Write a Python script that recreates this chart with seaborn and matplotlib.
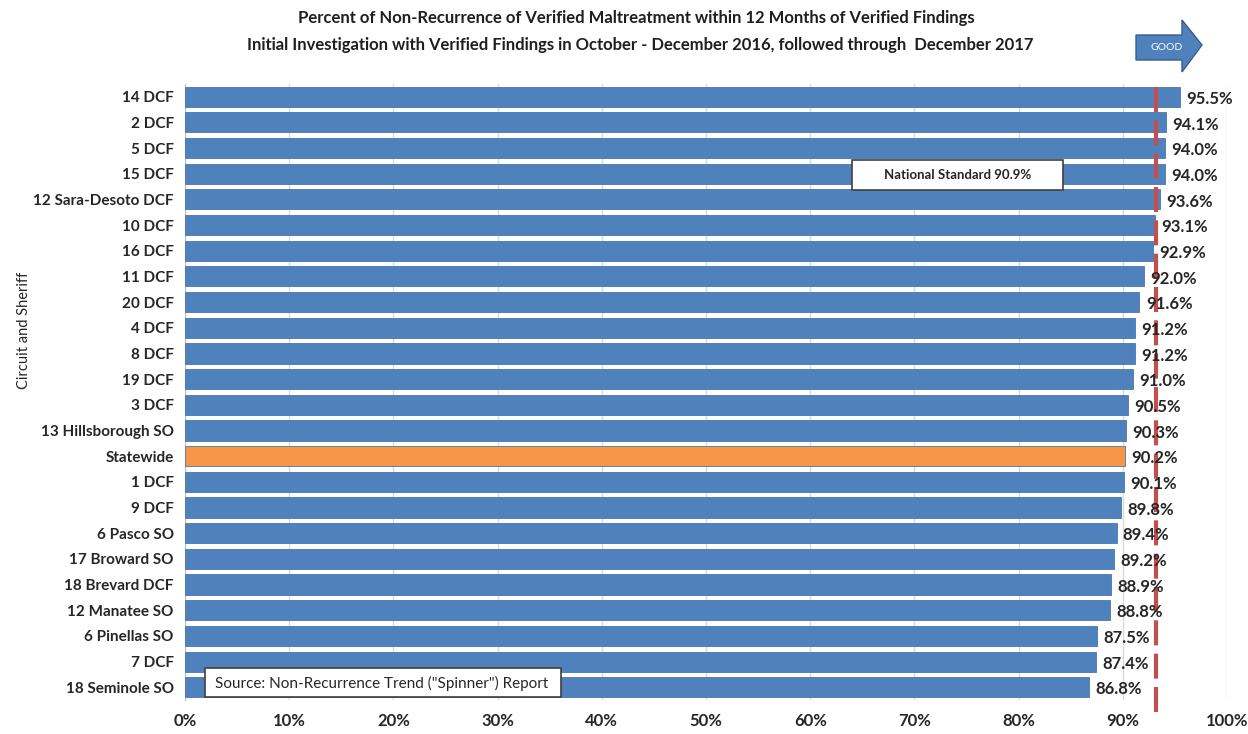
import matplotlib
matplotlib.use("Agg")
import matplotlib.pyplot as plt
import seaborn as sns
from matplotlib.patches import Polygon, Rectangle
from matplotlib.ticker import PercentFormatter

# data
labels = ["14 DCF", "2 DCF", "5 DCF", "15 DCF", "12 Sara-Desoto DCF", "10 DCF", "16 DCF",
          "11 DCF", "20 DCF", "4 DCF", "8 DCF", "19 DCF", "3 DCF", "13 Hillsborough SO",
          "Statewide", "1 DCF", "9 DCF", "6 Pasco SO", "17 Broward SO", "18 Brevard DCF",
          "12 Manatee SO", "6 Pinellas SO", "7 DCF", "18 Seminole SO"]
values = [95.5, 94.1, 94.0, 94.0, 93.6, 93.1, 92.9, 92.0, 91.6, 91.2, 91.2, 91.0, 90.5,
          90.3, 90.2, 90.1, 89.8, 89.4, 89.2, 88.9, 88.8, 87.5, 87.4, 86.8]
standard_line = 93.2   # where the dashed line is drawn in the picture
standard_text = "National Standard 90.9%"

sns.set_style("white")
plt.rcParams["font.family"] = ["Lato", "DejaVu Sans"]

blue = "#4F81BD"
orange = "#F79646"
palette = {l: (orange if l == "Statewide" else blue) for l in labels}

fig = plt.figure(figsize=(12.48, 7.34), dpi=100)
ax = fig.add_axes([0.1482, 0.0463, 0.835, 0.8393])

sns.barplot(x=values, y=labels, hue=labels, palette=palette, legend=False,
            width=0.78, saturation=1, ax=ax, zorder=3,
            edgecolor="#4A76AC", linewidth=0.6)

ax.set_xlim(0, 100)
ax.set_ylim(23.5, -0.5)
ax.set_xticks(range(0, 101, 10))
ax.xaxis.set_major_formatter(PercentFormatter(decimals=0))
ax.grid(axis="x", color="#D9D9D9", lw=1, zorder=0)
ax.grid(axis="y", visible=False)
for s in ["top", "right", "bottom"]:
    ax.spines[s].set_visible(False)
ax.spines["left"].set_color("#BFBFBF")
ax.tick_params(axis="both", length=0)
ax.tick_params(axis="x", pad=9, labelsize=12)
ax.tick_params(axis="y", pad=8, labelsize=11)
for t in ax.get_xticklabels() + ax.get_yticklabels():
    t.set_fontweight("bold")

ax.set_xlabel("")
ax.set_ylabel("Circuit and Sheriff", fontsize=10.5)
ax.yaxis.set_label_coords(-0.148, 0.6)

for i, v in enumerate(values):
    ax.text(v + 0.6, i + 0.08, f"{v:.1f}%", va="center", ha="left",
            fontsize=12, fontweight="bold", zorder=5)

# dashed national standard line
ax.plot([standard_line, standard_line], [-0.4, 24.1], color="#C0504D", lw=3,
        ls=(0, (6, 2)), clip_on=False, zorder=4)

# annotation boxes
ax.add_patch(Rectangle((64.0, 2.46), 20.3, 1.17, fc="white", ec="#404040", lw=1.2, zorder=6))
ax.text(74.1, 3.06, standard_text, ha="center", va="center", fontsize=9.5,
        fontweight="bold", zorder=7)
ax.add_patch(Rectangle((1.9, 22.25), 34.2, 1.13, fc="white", ec="#404040", lw=1.2, zorder=6))
ax.text(2.9, 22.84, 'Source: Non-Recurrence Trend ("Spinner") Report', ha="left",
        va="center", fontsize=11, zorder=7)

# title
fig.text(0.51, 0.986, "Percent of Non-Recurrence of Verified Maltreatment within 12 Months of Verified Findings",
         ha="center", va="top", fontsize=12, fontweight="bold", color="#1F1F1F")
fig.text(0.513, 0.949, "Initial Investigation with Verified Findings in October - December 2016, followed through  December 2017",
         ha="center", va="top", fontsize=12, fontweight="bold", color="#1F1F1F")

# GOOD arrow
W, H = 1248, 734
pts = [(1136, 35), (1182, 35), (1182, 20), (1202, 45), (1182, 72), (1182, 60), (1136, 60)]
arrow = Polygon([(x / W, 1 - y / H) for x, y in pts], closed=True,
                transform=fig.transFigure, fc=blue, ec="#385D8A", lw=1)
fig.patches.append(arrow)
fig.text(1167 / W, 1 - 48 / H, "GOOD", ha="center", va="center", fontsize=7.5, color="white")

plt.savefig("out.png", dpi=100)
